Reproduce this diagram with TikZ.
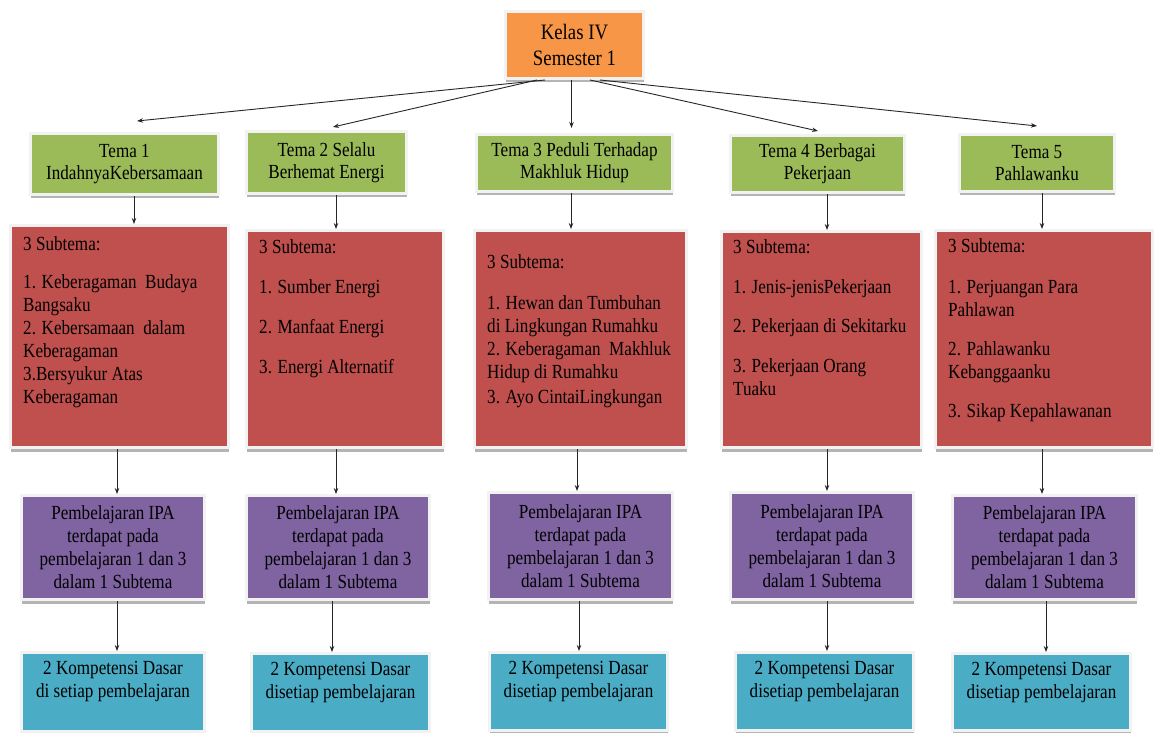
\documentclass[tikz,border=0pt]{standalone}
\usepackage{fontspec}
\setmainfont{Liberation Serif}[FakeStretch=0.855]
\usetikzlibrary{arrows.meta,shadows}
\definecolor{corange}{HTML}{F79646}
\definecolor{cgreen}{HTML}{9BBB59}
\definecolor{cred}{HTML}{C0504D}
\definecolor{cpurple}{HTML}{8064A2}
\definecolor{cblue}{HTML}{4BACC6}
\definecolor{cframe}{HTML}{F2F2F2}
\definecolor{cshadow}{HTML}{B4B4B4}
\tikzset{
  box/.style={draw=cframe, line width=3pt, inner sep=0pt, align=center, text=black,
    drop shadow={shadow xshift=0.8pt, shadow yshift=-4pt, fill=cshadow, opacity=1}},
  sz/.style n args={2}{minimum width=#1+3pt, minimum height=#2+3pt},
  topbox/.style={box, fill=corange, font=\fontsize{22}{26}\selectfont},
  temabox/.style={box, fill=cgreen, font=\fontsize{20}{22}\selectfont},
  redbox/.style={box, fill=cred},
  purplebox/.style={box, fill=cpurple, font=\fontsize{20}{23}\selectfont},
  bluebox/.style={box, fill=cblue},
  redtxt/.style={anchor=north west, inner sep=0pt, align=left, text=black, font=\fontsize{20}{23}\selectfont},
  bluetxt/.style={anchor=north, inner sep=0pt, align=center, text=black, font=\fontsize{20}{23}\selectfont},
  arr/.style={-{Stealth[length=6pt,width=4.5pt]}, line width=0.9pt, draw=black!85},
}
\begin{document}
\begin{tikzpicture}[x=1pt,y=-1pt]
\useasboundingbox (0,0) rectangle (1160,733);

% top
\node[topbox, sz={135pt}{64pt}] (top) at (574.5,45) {Kelas IV\\Semester 1};

% tema row
\node[temabox, sz={185pt}{58pt}] (t1) at (124.5,164) {Tema 1\\IndahnyaKebersamaan};
\node[temabox, sz={157pt}{59pt}] (t2) at (326.5,162.5) {Tema 2 Selalu\\Berhemat Energi};
\node[temabox, sz={193pt}{54pt}] (t3) at (574.5,163) {Tema 3 Peduli Terhadap\\Makhluk Hidup};
\node[temabox, sz={171pt}{54pt}] (t4) at (817.5,164) {Tema 4 Berbagai\\Pekerjaan};
\node[temabox, sz={152pt}{54pt}] (t5) at (1037,163) {Tema 5\\Pahlawanku};

% red boxes
\node[redbox, sz={215pt}{219pt}] (r1) at (119.5,336.5) {};
\node[redbox, sz={194pt}{214pt}] (r2) at (345,339) {};
\node[redbox, sz={209pt}{214pt}] (r3) at (580.5,339) {};
\node[redbox, sz={197pt}{213pt}] (r4) at (821.5,339.5) {};
\node[redbox, sz={214pt}{214pt}] (r5) at (1044,339) {};

\node[redtxt] (r1t) at ([xshift=14pt,yshift=-12.3pt]r1.north west)
  {3 Subtema:\\[15pt]1. Keberagaman\ \ Budaya\\Bangsaku\\2. Kebersamaan\ \ dalam\\Keberagaman\\3.Bersyukur Atas\\Keberagaman};
\node[redtxt] (r2t) at ([xshift=14pt,yshift=-10.3pt]r2.north west)
  {3 Subtema:\\[17pt]1. Sumber Energi\\[17pt]2. Manfaat Energi\\[17pt]3. Energi Alternatif};
\node[redtxt] (r3t) at ([xshift=14pt,yshift=-25.3pt]r3.north west)
  {3 Subtema:\\[18pt]1. Hewan dan Tumbuhan\\di Lingkungan Rumahku\\2. Keberagaman\ \ Makhluk\\Hidup di Rumahku\\[2pt]3. Ayo CintaiLingkungan};
\node[redtxt] (r4t) at ([xshift=13pt,yshift=-9.3pt]r4.north west)
  {3 Subtema:\\[17pt]1. Jenis-jenisPekerjaan\\[16pt]2. Pekerjaan di Sekitarku\\[17pt]3. Pekerjaan Orang\\Tuaku};
\node[redtxt] (r5t) at ([xshift=14pt,yshift=-9.3pt]r5.north west)
  {3 Subtema:\\[18pt]1. Perjuangan Para\\Pahlawan\\[16pt]2. Pahlawanku\\Kebanggaanku\\[16pt]3. Sikap Kepahlawanan};

% purple boxes
\node[purplebox, sz={180pt}{101pt}] (p1) at (113,547.5) {Pembelajaran IPA\\terdapat pada\\pembelajaran 1 dan 3\\dalam 1 Subtema};
\node[purplebox, sz={180pt}{101pt}] (p2) at (338,547.5) {Pembelajaran IPA\\terdapat pada\\pembelajaran 1 dan 3\\dalam 1 Subtema};
\node[purplebox, sz={181pt}{104pt}] (p3) at (580.5,546) {Pembelajaran IPA\\terdapat pada\\pembelajaran 1 dan 3\\dalam 1 Subtema};
\node[purplebox, sz={180pt}{104pt}] (p4) at (822,546) {Pembelajaran IPA\\terdapat pada\\pembelajaran 1 dan 3\\dalam 1 Subtema};
\node[purplebox, sz={181pt}{101pt}] (p5) at (1044.5,547.5) {Pembelajaran IPA\\terdapat pada\\pembelajaran 1 dan 3\\dalam 1 Subtema};

% blue boxes
\node[bluebox, sz={180pt}{76pt}] (b1) at (113,692) {};
\node[bluebox, sz={175pt}{75pt}] (b2) at (340.5,692.5) {};
\node[bluebox, sz={175pt}{75pt}] (b3) at (578.5,691.5) {};
\node[bluebox, sz={175pt}{75pt}] (b4) at (824.5,691.5) {};
\node[bluebox, sz={175pt}{74pt}] (b5) at (1041.5,692) {};

\node[bluetxt] (b1t) at ([yshift=-10.3pt]b1.north) {2 Kompetensi Dasar\\di setiap pembelajaran};
\node[bluetxt] (b2t) at ([yshift=-10.3pt]b2.north) {2 Kompetensi Dasar\\disetiap pembelajaran};
\node[bluetxt] (b3t) at ([yshift=-10.3pt]b3.north) {2 Kompetensi Dasar\\disetiap pembelajaran};
\node[bluetxt] (b4t) at ([yshift=-10.3pt]b4.north) {2 Kompetensi Dasar\\disetiap pembelajaran};
\node[bluetxt] (b5t) at ([yshift=-10.3pt]b5.north) {2 Kompetensi Dasar\\disetiap pembelajaran};

% connectors from top
\draw[arr] ([xshift=-29.5pt]top.south) -- ([xshift=12.5pt,yshift=11pt]t1.north);
\draw[arr] ([xshift=-37.5pt]top.south) -- ([xshift=6.5pt,yshift=3pt]t2.north);
\draw[arr] ([xshift=-3pt]top.south) -- ([xshift=-3pt,yshift=5pt]t3.north);
\draw[arr] ([xshift=15.5pt]top.south) -- ([xshift=0.5pt,yshift=3pt]t4.north);
\draw[arr] ([xshift=25.5pt]top.south) -- ([yshift=7pt]t5.north);

% column 1
\draw[arr] ([xshift=9.5pt]t1.south) -- ([xshift=14.5pt]r1.north);
\draw[arr] ([xshift=-2.5pt]r1.south) -- ([xshift=4pt]p1.north);
\draw[arr] ([xshift=4pt]p1.south) -- ([xshift=4pt]b1.north);
% column 2
\draw[arr] ([xshift=9.5pt]t2.south) -- ([xshift=-9pt]r2.north);
\draw[arr] ([xshift=-9pt]r2.south) -- ([xshift=-2pt]p2.north);
\draw[arr] ([xshift=-6pt]p2.south) -- ([xshift=-8.5pt]b2.north);
% column 3
\draw[arr] ([xshift=-3.5pt]t3.south) -- ([xshift=-9.5pt]r3.north);
\draw[arr] ([xshift=-3.5pt]r3.south) -- ([xshift=-3.5pt]p3.north);
\draw[arr] ([xshift=-1.5pt]p3.south) -- ([xshift=0.5pt]b3.north);
% column 4
\draw[arr] ([xshift=9.5pt]t4.south) -- ([xshift=5.5pt]r4.north);
\draw[arr] ([xshift=5.5pt]r4.south) -- ([xshift=5pt]p4.north);
\draw[arr] ([xshift=5pt]p4.south) -- ([xshift=2.5pt]b4.north);
% column 5
\draw[arr] ([xshift=5pt]t5.south) -- ([xshift=-2pt]r5.north);
\draw[arr] ([xshift=-2pt]r5.south) -- ([xshift=-2.5pt]p5.north);
\draw[arr] ([xshift=1.5pt]p5.south) -- ([xshift=4.5pt]b5.north);
\end{tikzpicture}
\end{document}
